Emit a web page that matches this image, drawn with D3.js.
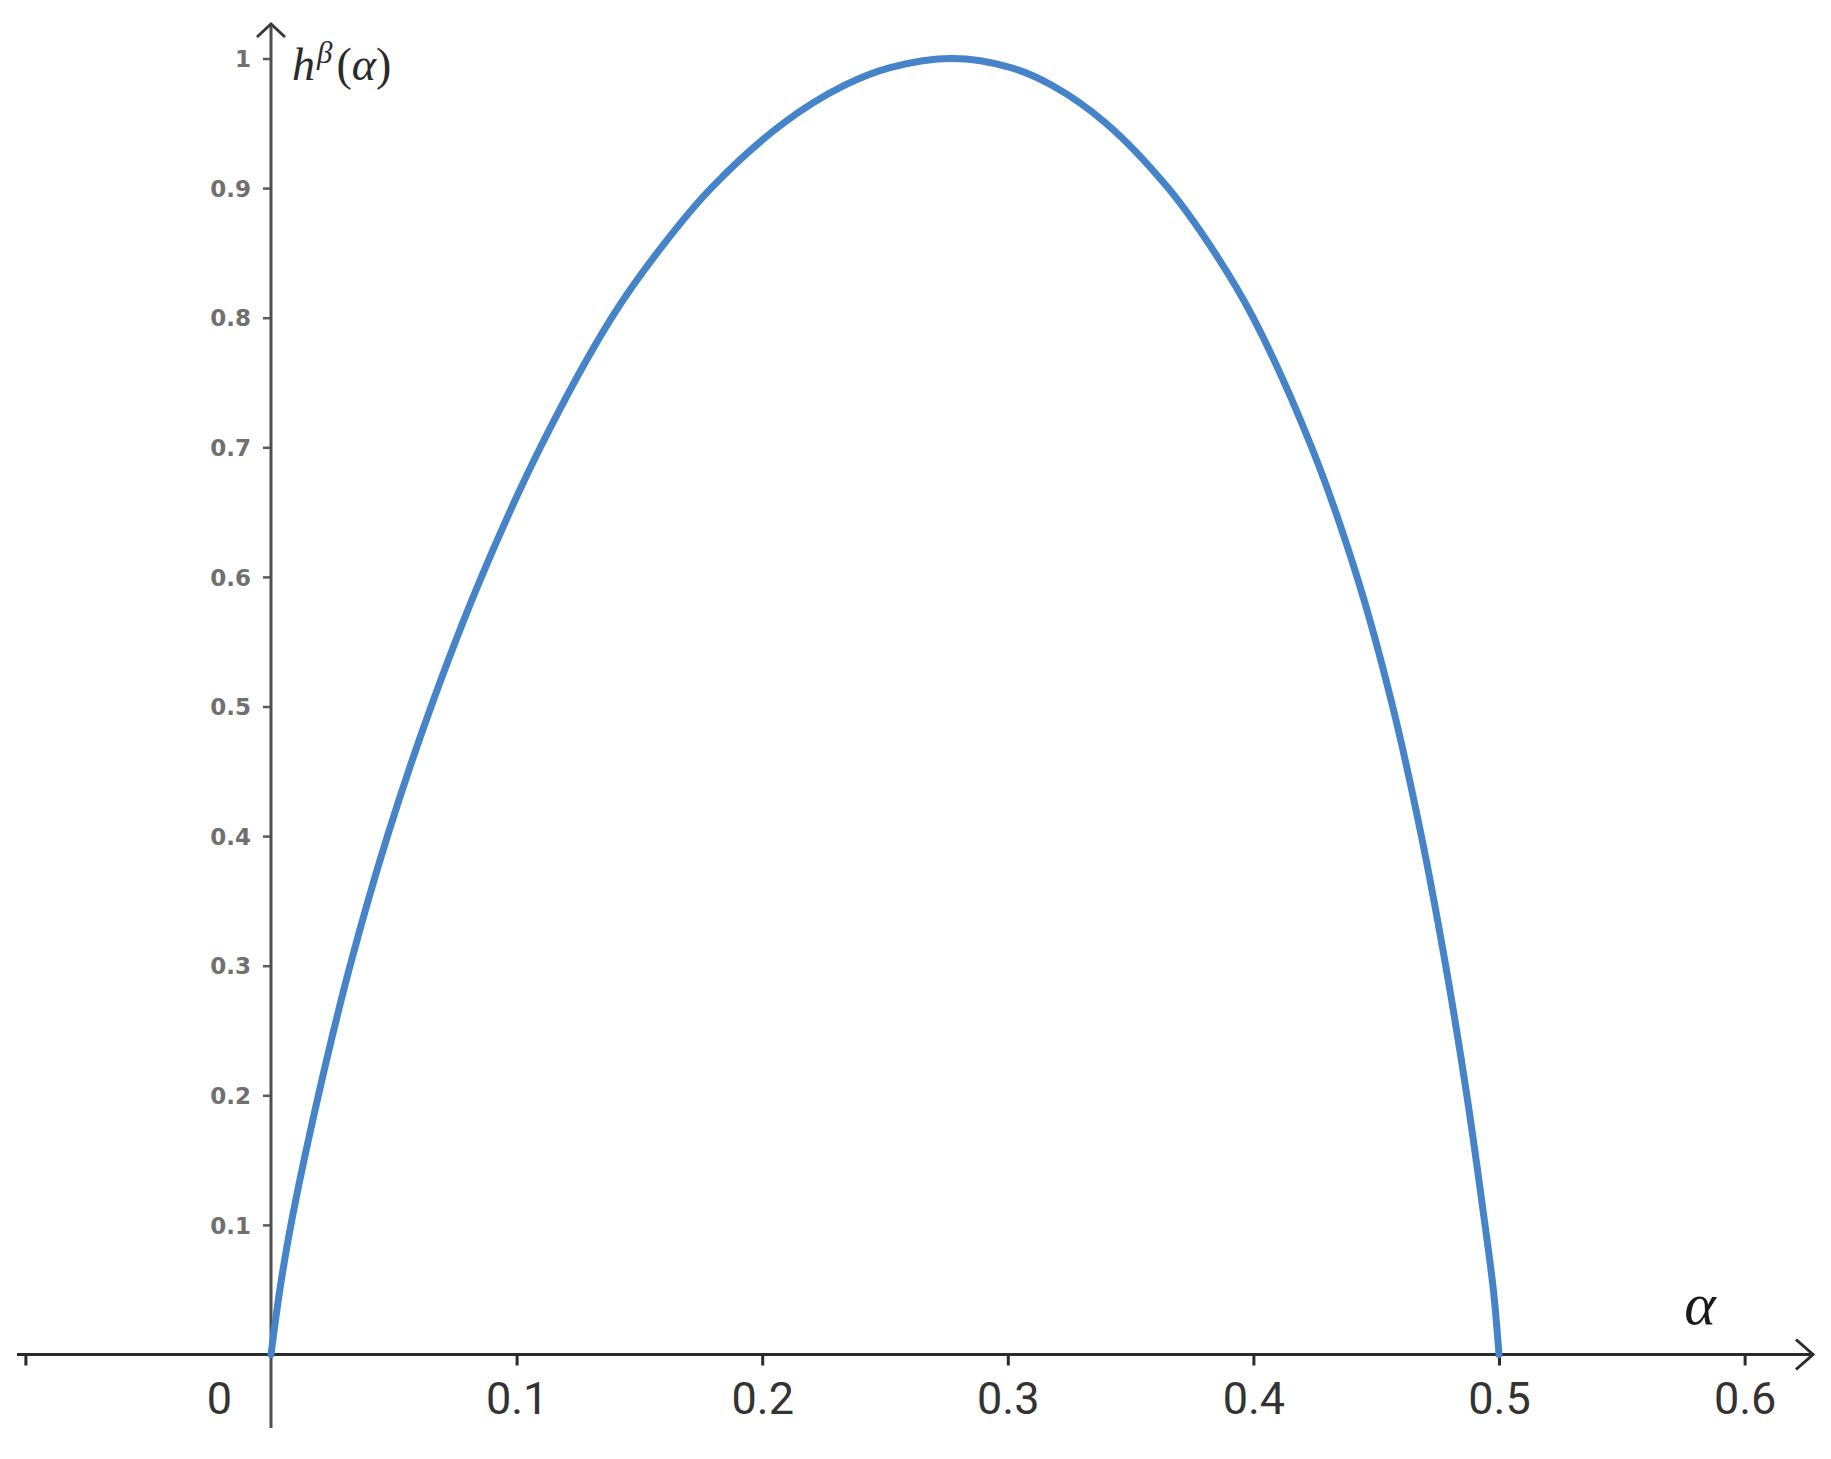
<!DOCTYPE html>
<html>
<head>
<meta charset="utf-8">
<script src="https://cdn.jsdelivr.net/npm/d3@7"></script>
<style>
  html, body { margin: 0; padding: 0; background: #ffffff; }
  svg { display: block; }
</style>
</head>
<body>
<svg id="chart" width="1831" height="1459"></svg>
<script>
// ---- data ----
const alphaValues = [0, 0.0036, 0.0081, 0.0193, 0.0322, 0.0474, 0.0652, 0.0857, 0.1097, 0.1387, 0.1572, 0.1792, 0.2086, 0.2332, 0.2521, 0.2773,
                     0.3012, 0.3183, 0.3400, 0.3653, 0.3843, 0.3999, 0.4237, 0.4422, 0.4567, 0.4684, 0.4783, 0.4869, 0.4943, 0.4977, 0.5];
const hValues     = [0, 0.05, 0.1, 0.2, 0.3, 0.4, 0.5, 0.6, 0.7, 0.8, 0.85, 0.9, 0.95, 0.979, 0.993, 1.0,
                     0.993, 0.979, 0.95, 0.9, 0.85, 0.8, 0.7, 0.6, 0.5, 0.4, 0.3, 0.2, 0.1, 0.05, 0];

const xTickValues = [-0.1, 0, 0.1, 0.2, 0.3, 0.4, 0.5, 0.6];
const xTickLabels = ["", "0", "0.1", "0.2", "0.3", "0.4", "0.5", "0.6"];
const yTickValues = [0.1, 0.2, 0.3, 0.4, 0.5, 0.6, 0.7, 0.8, 0.9, 1];
const yTickLabels = ["0.1", "0.2", "0.3", "0.4", "0.5", "0.6", "0.7", "0.8", "0.9", "1"];

const xAxisTitle = "α";
const yAxisTitle = { base: "h", sup: "β", arg: "α" };

// ---- layout ----
const svg = d3.select("#chart");
const x = d3.scaleLinear().domain([0, 0.6]).range([271, 1744.6]);
const y = d3.scaleLinear().domain([0, 1]).range([1354.5, 58.5]);

const x0 = x(0), y0 = y(0);
const xAxisStart = 17, xAxisEnd = 1813;
const yAxisTop = 24, yAxisBottom = 1428;

// x axis (ticks + labels via d3 axis)
const xAxis = d3.axisBottom(x)
  .tickValues(xTickValues)
  .tickSize(11)
  .tickSizeOuter(0)
  .tickPadding(16)
  .tickFormat((d, i) => xTickLabels[i]);

const gx = svg.append("g").attr("transform", `translate(0,${y0})`).call(xAxis);
gx.select(".domain").remove();
gx.selectAll(".tick line").attr("stroke", "#2b2b2b").attr("stroke-width", 3);
gx.selectAll(".tick text")
  .attr("fill", "#333333")
  .style("font-family", "Roboto, 'Open Sans', sans-serif")
  .style("font-size", "45px")
  .attr("dy", "0.71em")
  .attr("y", 28);
// "0" label sits left of the vertical axis, as in the reference
gx.selectAll(".tick").filter(d => d === 0).select("text").attr("x", -52);
gx.selectAll(".tick").filter(d => d === 0).select("line").remove();

// y axis
const yAxis = d3.axisLeft(y)
  .tickValues(yTickValues)
  .tickSize(8)
  .tickSizeOuter(0)
  .tickPadding(12)
  .tickFormat((d, i) => yTickLabels[i]);

const gy = svg.append("g").attr("transform", `translate(${x0},0)`).call(yAxis);
gy.select(".domain").remove();
gy.selectAll(".tick line").attr("stroke", "#5a5a5a").attr("stroke-width", 2.5);
gy.selectAll(".tick text")
  .attr("fill", "#707070")
  .style("font-family", "'DejaVu Sans', sans-serif")
  .style("font-weight", "bold")
  .style("font-size", "23px")
  .attr("dy", "0.36em");

// axis lines with open arrow heads
svg.append("line")
  .attr("x1", xAxisStart).attr("x2", xAxisEnd - 1)
  .attr("y1", y0).attr("y2", y0)
  .attr("stroke", "#2b2b2b").attr("stroke-width", 3);
svg.append("path")
  .attr("d", `M${xAxisEnd - 17},${y0 - 15} L${xAxisEnd},${y0} L${xAxisEnd - 17},${y0 + 15}`)
  .attr("fill", "none").attr("stroke", "#2b2b2b").attr("stroke-width", 3)
  .attr("stroke-linejoin", "miter");

svg.append("line")
  .attr("x1", x0).attr("x2", x0)
  .attr("y1", yAxisTop + 1).attr("y2", yAxisBottom)
  .attr("stroke", "#505050").attr("stroke-width", 3);
svg.append("path")
  .attr("d", `M${x0 - 14},${yAxisTop + 13} L${x0},${yAxisTop} L${x0 + 14},${yAxisTop + 13}`)
  .attr("fill", "none").attr("stroke", "#3a3a3a").attr("stroke-width", 3);

// curve
const pts = alphaValues.map((a, i) => ({ a: a, h: hValues[i] }));
const line = d3.line()
  .x(d => x(d.a))
  .y(d => y(d.h))
  .curve(d3.curveCatmullRom.alpha(0.5));

svg.append("path")
  .datum(pts)
  .attr("d", line)
  .attr("fill", "none")
  .attr("stroke", "#4684ca")
  .attr("stroke-width", 7)
  .attr("stroke-linecap", "round")
  .attr("stroke-linejoin", "round");

// axis titles
const serif = "'Liberation Serif', 'DejaVu Serif', serif";
const yt = svg.append("text")
  .attr("x", 292).attr("y", 80)
  .attr("fill", "#2a2a2a")
  .style("font-family", serif)
  .style("font-size", "46px");
yt.append("tspan").style("font-style", "italic").text(yAxisTitle.base);
yt.append("tspan").style("font-style", "italic").style("font-size", "31px").attr("dy", -17).attr("dx", 2).text(yAxisTitle.sup);
yt.append("tspan").attr("dy", 17).attr("dx", 4).text("(");
yt.append("tspan").style("font-style", "italic").text(yAxisTitle.arg);
yt.append("tspan").text(")");

svg.append("text")
  .attr("x", 1700).attr("y", 1324)
  .attr("text-anchor", "middle")
  .attr("fill", "#1a1a1a")
  .style("font-family", serif)
  .style("font-style", "italic")
  .style("font-size", "60px")
  .text(xAxisTitle);
</script>
</body>
</html>
